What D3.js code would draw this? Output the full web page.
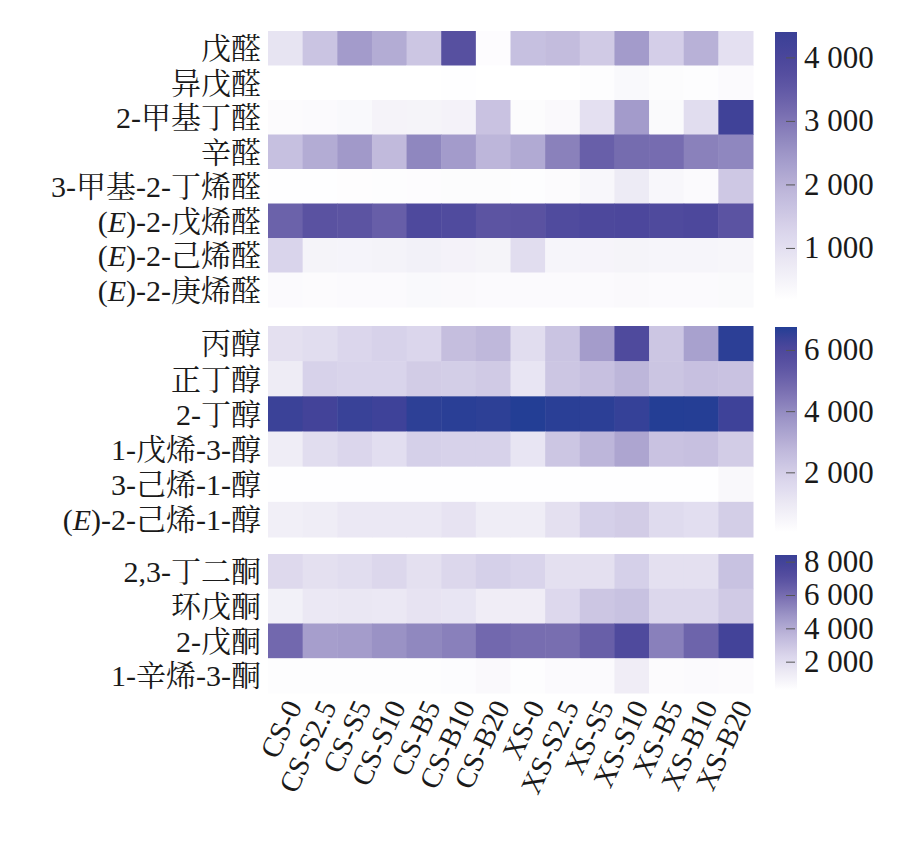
<!DOCTYPE html>
<html>
<head>
<meta charset="utf-8">
<script src="https://cdn.jsdelivr.net/npm/d3@7"></script>
<style>
  body { margin: 0; background: #fff; }
  svg text { font-family: "Liberation Serif", "Noto Serif CJK SC", "Noto Sans CJK SC", serif; fill: #1a1a1a; }
</style>
</head>
<body>
<svg width="917" height="845"></svg>
<script>
// samples (columns)
const samples = ["CS-0", "CS-S2.5", "CS-S5", "CS-S10", "CS-B5", "CS-B10", "CS-B20",
                 "XS-0", "XS-S2.5", "XS-S5", "XS-S10", "XS-B5", "XS-B10", "XS-B20"];

// aldehydes
const aldehydes = ["戊醛", "异戊醛", "2-甲基丁醛", "辛醛", "3-甲基-2-丁烯醛", "(E)-2-戊烯醛", "(E)-2-己烯醛", "(E)-2-庚烯醛"];
const aldehydeValues = [
  [880, 1610, 2390, 2085, 1570, 3680, 250, 1700, 1780, 1480, 2390, 1400, 2000, 970],
  [190, 190, 190, 190, 190, 200, 190, 190, 190, 230, 350, 260, 230, 300],
  [280, 300, 350, 490, 480, 520, 1650, 260, 330, 970, 2390, 320, 1050, 4250],
  [1700, 2085, 2430, 1830, 2730, 2390, 1910, 2130, 2820, 3380, 3160, 3150, 2820, 2730],
  [200, 200, 220, 230, 250, 260, 260, 230, 280, 400, 710, 380, 300, 1530],
  [3330, 3630, 3590, 3410, 3910, 3850, 3590, 3630, 3850, 3920, 3950, 3870, 3920, 3600],
  [1270, 480, 470, 500, 560, 520, 480, 1050, 450, 460, 480, 450, 440, 420],
  [300, 280, 300, 300, 350, 340, 300, 300, 300, 310, 330, 310, 300, 320]
];
const aldehydeDomain = [180, 4400];
const aldehydeTicks = [1000, 2000, 3000, 4000];

// alcohols
const alcohols = ["丙醇", "正丁醇", "2-丁醇", "1-戊烯-3-醇", "3-己烯-1-醇", "(E)-2-己烯-1-醇"];
const alcoholValues = [
  [1320, 1460, 1725, 1860, 1725, 2530, 2730, 1460, 2330, 3530, 5910, 2260, 3400, 6620],
  [860, 1860, 1800, 1800, 2060, 2000, 2130, 1120, 2260, 2460, 2800, 2300, 2460, 2380],
  [6400, 6280, 6420, 6350, 6600, 6650, 6600, 6750, 6650, 6620, 6480, 6730, 6720, 6350],
  [790, 1460, 1725, 1390, 1930, 1860, 1860, 1120, 2260, 2800, 3270, 2380, 2460, 2060],
  [80, 80, 80, 80, 80, 80, 80, 80, 80, 80, 80, 80, 80, 350],
  [720, 790, 990, 990, 990, 1190, 790, 790, 1320, 1930, 2060, 1520, 1390, 2000]
];
const alcoholDomain = [50, 6750];
const alcoholTicks = [2000, 4000, 6000];

// ketones
const ketones = ["2,3-丁二酮", "环戊酮", "2-戊酮", "1-辛烯-3-酮"];
const ketoneValues = [
  [2160, 1840, 2000, 2280, 1840, 2280, 2570, 2400, 1840, 1840, 2570, 1840, 1840, 3140],
  [1030, 1430, 1520, 1430, 1680, 1600, 1190, 1190, 2240, 2970, 3140, 2280, 2280, 2810],
  [6130, 4430, 4510, 4840, 5160, 5400, 6130, 5970, 5950, 6460, 7390, 5400, 6290, 7950],
  [400, 400, 400, 420, 420, 450, 600, 420, 550, 550, 1190, 480, 550, 500]
];
const ketoneDomain = [300, 8400];
const ketoneTicks = [2000, 4000, 6000, 8000];

const svg = d3.select("svg");
const left = 268, right = 753;
const barX = 775, barW = 22;

const rampStops = [0, 0.1, 0.25, 0.4, 0.55, 0.7, 0.82, 0.92, 1];
const rampColors = ["#ffffff", "#f1eff7", "#dbd6ec", "#bfb8db", "#9d95c7", "#776db0", "#5951a1", "#47449a"];

function makeRamp(endColor) {
  return d3.scaleLinear()
    .domain(rampStops)
    .range(rampColors.concat([endColor]))
    .clamp(true);
}

const fmt = d3.formatLocale({decimal: ".", thousands: " ", grouping: [3], currency: ["", ""]}).format(",d");

const x = d3.scaleBand().domain(samples).range([left, right]);

function label(sel, name) {
  // (E) gets an italic E
  if (name.startsWith("(E)")) {
    sel.append("tspan").text("(");
    sel.append("tspan").attr("font-style", "italic").text("E");
    sel.append("tspan").text(")" + name.slice(3));
  } else {
    sel.text(name);
  }
}

const defs = svg.append("defs");

function panel(id, names, values, domain, ticks, top, bottom, barTop, barBottom, endColor) {
  const ramp = makeRamp(endColor);
  const y = d3.scaleBand().domain(names).range([top, bottom]);
  const t = d3.scaleLinear().domain(domain).range([0, 1]);
  const g = svg.append("g");

  names.forEach(function(n, i) {
    g.selectAll(null)
      .data(values[i])
      .join("rect")
        .attr("x", function(d, j) { return x(samples[j]); })
        .attr("y", y(n))
        .attr("width", x.bandwidth() + 0.5)
        .attr("height", y.bandwidth() + 0.5)
        .attr("fill", function(d) { return ramp(t(d)); });

    const txt = g.append("text")
      .attr("x", left - 7)
      .attr("y", y(n) + y.bandwidth() / 2)
      .attr("dy", "0.36em")
      .attr("text-anchor", "end")
      .attr("font-size", 30);
    label(txt, n);
  });

  // colour bar
  const grad = defs.append("linearGradient")
    .attr("id", id).attr("x1", 0).attr("y1", 1).attr("x2", 0).attr("y2", 0);
  d3.range(0, 1.0001, 0.05).forEach(function(s) {
    grad.append("stop").attr("offset", s).attr("stop-color", ramp(s));
  });
  svg.append("rect")
    .attr("x", barX).attr("y", barTop)
    .attr("width", barW).attr("height", barBottom - barTop)
    .attr("fill", "url(#" + id + ")");

  const yb = d3.scaleLinear().domain(domain).range([barBottom, barTop]);
  const axis = svg.append("g")
    .attr("transform", "translate(" + (barX + barW) + ",0)")
    .call(d3.axisRight(yb).tickValues(ticks).tickFormat(fmt).tickSizeInner(-9).tickSizeOuter(0).tickPadding(7));
  axis.select(".domain").remove();
  axis.selectAll(".tick line").attr("stroke", "#555").attr("transform", "translate(-2,0)");
  axis.selectAll(".tick text")
    .attr("font-size", 31)
    .attr("fill", "#1a1a1a")
    .attr("font-family", "Liberation Serif, serif");
}

panel("g1", aldehydes, aldehydeValues, aldehydeDomain, aldehydeTicks, 31, 307, 32, 300, "#3a4096");
panel("g2", alcohols, alcoholValues, alcoholDomain, alcoholTicks, 326, 537, 327, 532, "#233e95");
panel("g3", ketones, ketoneValues, ketoneDomain, ketoneTicks, 554, 693, 555, 690, "#3a4096");

// sample labels, rotated
svg.append("g").selectAll("text")
  .data(samples)
  .join("text")
    .attr("transform", function(d) { return "translate(" + (x(d) + x.bandwidth() / 2 + 8) + ",702) rotate(-65)"; })
    .attr("text-anchor", "end")
    .attr("dy", "0.35em")
    .attr("font-size", 29)
    .text(function(d) { return d; });
</script>
</body>
</html>
